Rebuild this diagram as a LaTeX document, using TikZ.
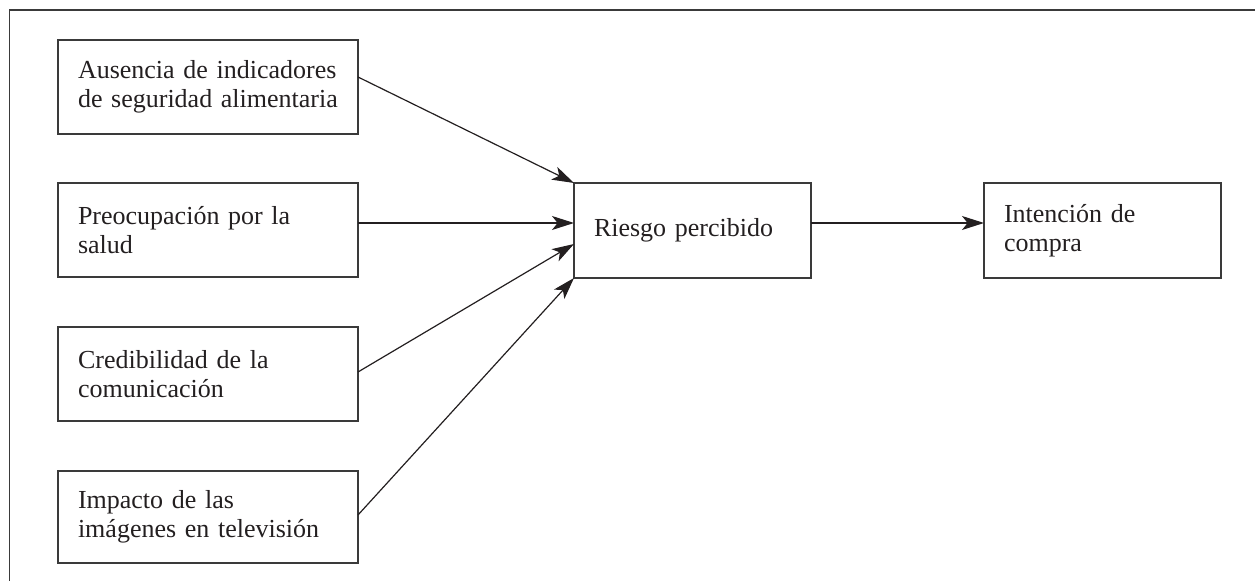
\documentclass[tikz,border=0pt]{standalone}
\usepackage{fontspec}
\setmainfont{Liberation Serif}
\usetikzlibrary{arrows.meta}
\definecolor{ink}{HTML}{231F20}
\definecolor{edge}{HTML}{3A3A3A}
\begin{document}
\begin{tikzpicture}[x=0.5pt,y=-0.5pt,
  box/.style={draw=edge, line width=0.7pt, rectangle, text=ink,
    font=\fontsize{13}{14.5}\selectfont, align=left,
    inner xsep=10pt, inner ysep=0pt, outer sep=0pt},
  leftbox/.style={box, text width=130pt, minimum width=150pt, minimum height=47pt},
  midbox/.style={box, text width=98.5pt, minimum width=118.5pt, minimum height=47.5pt},
  arr/.style={draw=ink, line width=0.6pt,
    -{Stealth[length=11pt,width=7pt,inset=2.8pt]}}]
  \useasboundingbox (0,0) rectangle (1255,581);
  % open frame: top and left rules only
  \draw[edge, line width=0.7pt] (1255,10) -- (9.5,10) -- (9.5,581);

  % factors
  \node[leftbox] (aus) at (208,87)  {Ausencia de indicadores\\de seguridad alimentaria};
  \node[leftbox] (pre) at (208,230) {Preocupación por la\\salud};
  \node[leftbox] (cre) at (208,374) {Credibilidad de la\\comunicación};
  \node[leftbox, minimum height=46pt] (imp) at (208,517) {Impacto de las\\imágenes en televisión};

  % mediator and outcome
  \node[midbox] (rie) at (692.5,230.5) {Riesgo percibido};
  \node[midbox] (int) at (1102.5,230.5) {Intención de\\compra};

  % relations
  \draw[arr] ([yshift=5pt]aus.east) -- (rie.north west);
  \draw[arr] ([yshift=3.5pt]pre.east) -- ([yshift=3.75pt]rie.west);
  \draw[arr] ([yshift=1pt]cre.east) -- ([yshift=-6.75pt]rie.west);
  \draw[arr] ([yshift=1pt]imp.east) -- (rie.south west);
  \draw[arr] ([yshift=3.75pt]rie.east) -- ([yshift=3.75pt]int.west);
\end{tikzpicture}
\end{document}
